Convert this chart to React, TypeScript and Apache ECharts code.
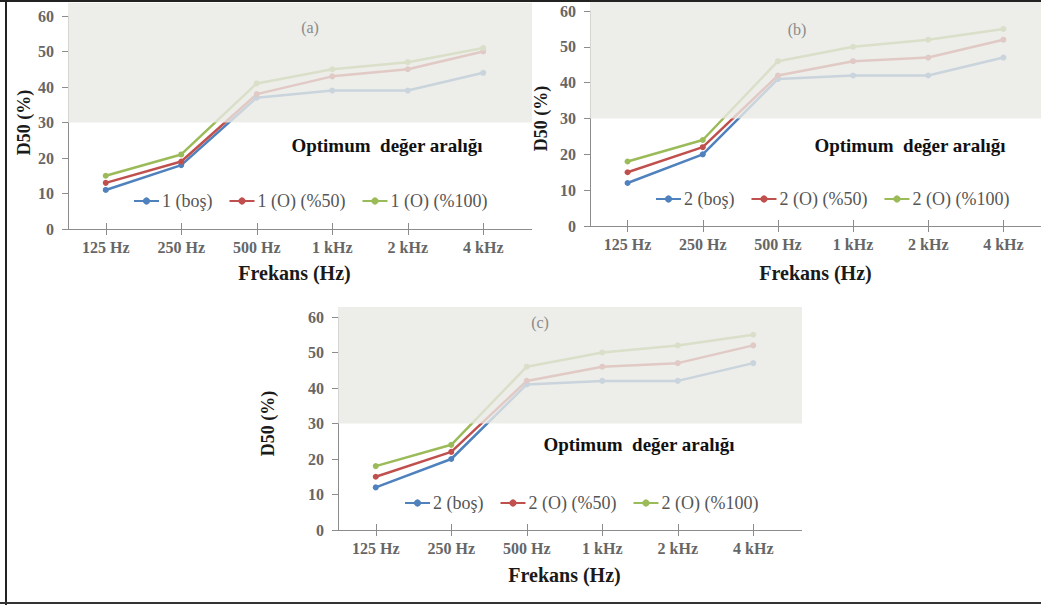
import React, { useEffect, useRef } from "react";
import * as echarts from "echarts";

const categories = ["125 Hz", "250 Hz", "500 Hz", "1 kHz", "2 kHz", "4 kHz"];

const seriesNamesA = ["1 (boş)", "1 (O) (%50)", "1 (O) (%100)"];
const seriesNamesB = ["2 (boş)", "2 (O) (%50)", "2 (O) (%100)"];

const aBos = [11, 18, 37, 39, 39, 44];
const a50 = [13, 19, 38, 43, 45, 50];
const a100 = [15, 21, 41, 45, 47, 51];

const bBos = [12, 20, 41, 42, 42, 47];
const b50 = [15, 22, 42, 46, 47, 52];
const b100 = [18, 24, 46, 50, 52, 55];

const cBos = [12, 20, 41, 42, 42, 47];
const c50 = [15, 22, 42, 46, 47, 52];
const c100 = [18, 24, 46, 50, 52, 55];

// optimum range (shaded band) lower bound and visual top
const optimumLow = 30;
const bandTopA = 63.7;
const bandTopB = 63.2;
const bandTopC = 62.8;

const panelLabels = ["(a)", "(b)", "(c)"];
const optimumText = "Optimum  değer aralığı";
const xTitle = "Frekans (Hz)";
const yTitle = "D50 (%)";

const COLORS = ["#4F81BD", "#C0504D", "#9BBB59"];
const FONT = "'Liberation Serif', 'Times New Roman', serif";

type Panel = {
  grid: { left: number; top: number; width: number; height: number };
  data: number[][];
  names: string[];
  bandTop: number;
  extra: number;
  yGap: number;
  xGap: number;
  legend: { left: number; top: number };
};

const panels: Panel[] = [
  {
    grid: { left: 68, top: 16, width: 453, height: 213 },
    data: [aBos, a50, a100],
    names: seriesNamesA,
    bandTop: bandTopA,
    extra: 11,
    yGap: 35,
    xGap: 34,
    legend: { left: 133, top: 192 },
  },
  {
    grid: { left: 590, top: 11, width: 451, height: 215 },
    data: [bBos, b50, b100],
    names: seriesNamesB,
    bandTop: bandTopB,
    extra: 0,
    yGap: 40,
    xGap: 37,
    legend: { left: 655, top: 190 },
  },
  {
    grid: { left: 338, top: 317, width: 453, height: 213 },
    data: [cBos, c50, c100],
    names: seriesNamesB,
    bandTop: bandTopC,
    extra: 11,
    yGap: 61,
    xGap: 35,
    legend: { left: 404, top: 494 },
  },
];

const textPositions = [
  { label: [310, 27], opt: [387, 145] },
  { label: [797, 29], opt: [910, 145] },
  { label: [540, 322], opt: [639, 444] },
];

function buildOption() {
  const grid: any[] = [];
  const xAxis: any[] = [];
  const yAxis: any[] = [];
  const series: any[] = [];
  const legend: any[] = [];
  const graphic: any[] = [];

  panels.forEach((p, i) => {
    grid.push({ ...p.grid, containLabel: false });
    const xMain = xAxis.length;
    xAxis.push({
      type: "category",
      gridIndex: i,
      data: categories,
      boundaryGap: true,
      axisLine: { show: true, lineStyle: { color: "#8c8c8c", width: 1 } },
      axisTick: { show: true, alignWithLabel: true, length: 6, lineStyle: { color: "#8c8c8c" } },
      axisLabel: {
        margin: 10,
        color: "#666",
        fontFamily: FONT,
        fontSize: 16,
        fontWeight: "bold",
      },
      name: xTitle,
      nameLocation: "middle",
      nameGap: p.xGap,
      nameTextStyle: { fontFamily: FONT, fontSize: 20, fontWeight: "bold", color: "#1a1a1a" },
    });
    xAxis.push({
      type: "category",
      gridIndex: i,
      data: categories,
      position: "bottom",
      axisLine: { show: false },
      axisTick: { show: true, inside: true, alignWithLabel: true, length: 6, lineStyle: { color: "#8c8c8c" } },
      axisLabel: { show: false },
    });
    const yIdx = yAxis.length;
    yAxis.push({
      type: "value",
      gridIndex: i,
      min: 0,
      max: 60,
      interval: 10,
      axisLine: { show: true, lineStyle: { color: "#8c8c8c" } },
      axisTick: { show: true, length: 6, lineStyle: { color: "#8c8c8c" } },
      splitLine: { show: false },
      axisLabel: { margin: 14, color: "#666", fontFamily: FONT, fontSize: 16, fontWeight: "bold" },
      name: yTitle,
      nameLocation: "middle",
      nameGap: p.yGap,
      nameRotate: 90,
      nameTextStyle: { fontFamily: FONT, fontSize: 18, fontWeight: "bold", color: "#1a1a1a" },
    });

    p.data.forEach((vals, k) => {
      series.push({
        type: "line",
        name: p.names[k],
        xAxisIndex: xMain,
        yAxisIndex: yIdx,
        data: vals,
        z: 2,
        symbol: "circle",
        symbolSize: 6,
        lineStyle: { color: COLORS[k], width: 2.5 },
        itemStyle: { color: COLORS[k] },
        color: COLORS[k],
      });
    });

    const extra = p.extra;
    series.push({
      type: "custom",
      xAxisIndex: xMain,
      yAxisIndex: yIdx,
      z: 5,
      silent: true,
      clip: false,
      encode: { x: 0, y: [1, 2] },
      data: [[0, optimumLow, p.bandTop]],
      renderItem: (params: any, api: any) => {
        const cs = params.coordSys;
        const yBot = api.coord([0, api.value(1)])[1];
        const yTop = api.coord([0, api.value(2)])[1];
        const y0 = api.coord([0, 0])[1];
        return {
          type: "group",
          children: [
            {
              type: "rect",
              shape: { x: cs.x, y: yTop, width: cs.width + extra, height: yBot - yTop },
              style: { fill: "rgba(233,232,227,0.8)" },
            },
            {
              type: "line",
              shape: { x1: cs.x + cs.width, y1: y0 + 0.5, x2: cs.x + cs.width + extra, y2: y0 + 0.5 },
              style: { stroke: "#8c8c8c", lineWidth: 1 },
            },
          ],
        };
      },
    });

    legend.push({
      data: p.names,
      left: p.legend.left,
      top: p.legend.top,
      orient: "horizontal",
      padding: 0,
      itemWidth: 25,
      itemHeight: 9,
      itemGap: 16,
      selectedMode: false,
      textStyle: { fontFamily: FONT, fontSize: 18, color: "#555", padding: [0, 0, 0, -2] },
    });

    const tp = textPositions[i];
    graphic.push({
      type: "text",
      x: tp.label[0],
      y: tp.label[1],
      z: 100,
      style: {
        text: panelLabels[i],
        fill: "#8a8a8a",
        font: `16px ${FONT}`,
        textAlign: "center",
        textVerticalAlign: "middle",
      },
    });
    graphic.push({
      type: "text",
      x: tp.opt[0],
      y: tp.opt[1],
      z: 100,
      style: {
        text: optimumText,
        fill: "#111",
        font: `bold 19px ${FONT}`,
        textAlign: "center",
        textVerticalAlign: "middle",
      },
    });
  });

  // outer frame
  graphic.push(
    { type: "line", z: 100, shape: { x1: 6, y1: 0, x2: 6, y2: 605 }, style: { stroke: "#222", lineWidth: 2 } },
    { type: "line", z: 100, shape: { x1: 0, y1: 1, x2: 1041, y2: 1 }, style: { stroke: "#222", lineWidth: 2 } },
    { type: "line", z: 100, shape: { x1: 0, y1: 603, x2: 1041, y2: 603 }, style: { stroke: "#333", lineWidth: 2 } }
  );

  return {
    animation: false,
    backgroundColor: "#ffffff",
    grid,
    xAxis,
    yAxis,
    legend,
    series,
    graphic,
  };
}

export default function App() {
  const ref = useRef<HTMLDivElement>(null);
  useEffect(() => {
    if (!ref.current) return;
    const chart = echarts.init(ref.current, undefined, { renderer: "svg" });
    chart.setOption(buildOption() as any);
    return () => chart.dispose();
  }, []);
  return (
    <div
      ref={ref}
      style={{ position: "fixed", left: 0, top: 0, width: 1041, height: 605, background: "#fff" }}
    />
  );
}
